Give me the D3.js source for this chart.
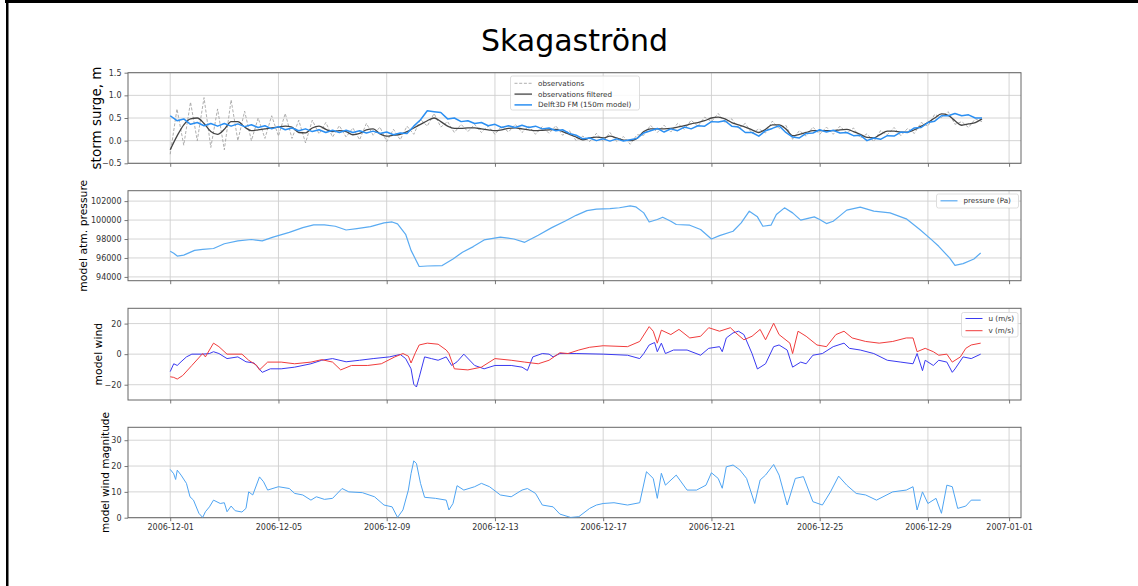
<!DOCTYPE html>
<html>
<head>
<meta charset="utf-8">
<script src="https://cdn.jsdelivr.net/npm/d3@7"></script>
<style>
  html, body { margin: 0; padding: 0; background: #fff; }
  svg { display: block; font-family: "DejaVu Sans", sans-serif; }
</style>
</head>
<body>
<div id="chart"></div>
<script>
// ---- data ----
const titleText = "Skagaströnd";
const startDate = "2006-12-01T00:00:00Z";
const xTickDates = ["2006-12-01", "2006-12-05", "2006-12-09", "2006-12-13", "2006-12-17",
  "2006-12-21", "2006-12-25", "2006-12-29", "2007-01-01"];

// storm surge (m), one value every 6 hours from 2006-12-01 00:00
const surgeStepHours = 6;
const surgeObs = [
  -0.3, 0.7, -0.1, 0.85, 0.0, 0.95, -0.15, 0.7, -0.2, 0.9, 0.0, 0.65,
  0.0, 0.5, 0.05, 0.55, 0.1, 0.6, 0.05, 0.45, -0.05, 0.45, 0.15, 0.4,
  0.08, 0.33, 0.08, 0.28, 0.02, 0.38, 0.12, 0.3, -0.02, 0.25, 0.02, 0.32,
  0.14, 0.47, 0.32, 0.6, 0.3, 0.42, 0.18, 0.36, 0.2, 0.36, 0.18, 0.32,
  0.14, 0.32, 0.19, 0.36, 0.18, 0.32, 0.14, 0.31, 0.16, 0.33, 0.12, 0.22,
  0.0, 0.1, -0.02, 0.16, -0.02, 0.18, -0.02, 0.09, -0.08, 0.13, 0.12, 0.34,
  0.18, 0.34, 0.19, 0.38, 0.25, 0.45, 0.32, 0.52, 0.42, 0.6, 0.4, 0.48,
  0.27, 0.38, 0.16, 0.26, 0.17, 0.43, 0.27, 0.34, 0.03, 0.22, 0.1, 0.3,
  0.14, 0.3, 0.14, 0.32, 0.17, 0.28, 0.06, 0.15, -0.02, 0.22, 0.13, 0.29,
  0.11, 0.27, 0.16, 0.4, 0.32, 0.58, 0.51, 0.64, 0.36, 0.42, 0.29, 0.48,
  0.42
];
const surgeFiltered = [
  -0.2, 0.1, 0.35, 0.48, 0.5, 0.38, 0.2, 0.14, 0.25, 0.42, 0.42, 0.3,
  0.22, 0.24, 0.26, 0.28, 0.3, 0.32, 0.3, 0.18, 0.17, 0.28, 0.32, 0.25,
  0.2, 0.22, 0.2, 0.13, 0.16, 0.24, 0.26, 0.15, 0.1, 0.12, 0.14, 0.2,
  0.28, 0.36, 0.44, 0.5, 0.42, 0.32, 0.27, 0.27, 0.28, 0.28, 0.26, 0.24,
  0.22, 0.24, 0.27, 0.28, 0.26, 0.24, 0.22, 0.23, 0.24, 0.25, 0.2, 0.14,
  0.08, 0.02, 0.06, 0.08, 0.06, 0.1, 0.06, 0.01, 0.0, 0.05, 0.2, 0.26,
  0.26, 0.26, 0.27, 0.3, 0.33, 0.37, 0.4, 0.44, 0.5, 0.52, 0.48, 0.4,
  0.35, 0.3, 0.24, 0.18, 0.25, 0.35, 0.35, 0.26, 0.11, 0.14, 0.18, 0.22,
  0.22, 0.22, 0.22, 0.24, 0.25, 0.2, 0.14, 0.07, 0.06, 0.14, 0.21, 0.21,
  0.19, 0.19, 0.24, 0.32, 0.4, 0.5, 0.59, 0.56, 0.44, 0.34, 0.37, 0.4,
  0.48
];
const surgeModel = [
  0.55, 0.44, 0.48, 0.36, 0.4, 0.33, 0.38, 0.32, 0.38, 0.32, 0.37, 0.31,
  0.35, 0.29, 0.33, 0.26, 0.31, 0.24, 0.28, 0.22, 0.26, 0.2, 0.24, 0.18,
  0.23, 0.18, 0.23, 0.18, 0.22, 0.17, 0.21, 0.16, 0.19, 0.13, 0.17, 0.16,
  0.32, 0.46, 0.66, 0.64, 0.62, 0.48, 0.5, 0.42, 0.44, 0.38, 0.4, 0.33,
  0.36, 0.29, 0.33, 0.29, 0.34, 0.29, 0.32, 0.26, 0.28, 0.22, 0.24, 0.16,
  0.12, 0.04, 0.06, 0.0, 0.04, -0.01, 0.04, -0.01, 0.02, 0.05, 0.17, 0.22,
  0.27, 0.19, 0.26, 0.22, 0.3, 0.26, 0.33, 0.32, 0.42, 0.41, 0.44, 0.32,
  0.3, 0.18, 0.18, 0.1, 0.22, 0.27, 0.33, 0.18, 0.08, 0.06, 0.16, 0.17,
  0.24, 0.19, 0.23, 0.17, 0.18, 0.11, 0.12, 0.0, 0.06, 0.03, 0.11, 0.1,
  0.19, 0.18, 0.28, 0.29, 0.4, 0.43, 0.55, 0.55, 0.6, 0.55, 0.57, 0.5,
  0.5
];

// pressure (Pa), sampled at day offsets from 2006-12-01
const pressureDays = [0, 0.13, 0.26, 0.5, 0.9, 1.2, 1.6, 2.0, 2.5, 3.0, 3.4, 3.8, 4.4, 4.9, 5.3, 5.7,
  6.1, 6.5, 6.9, 7.4, 7.9, 8.2, 8.4, 8.7, 8.9, 9.2, 9.5, 10.05, 10.45, 10.8, 11.2, 11.6, 12.2, 12.7,
  13.1, 13.6, 14.1, 14.6, 15.0, 15.4, 15.75, 16.25, 16.6, 17.0, 17.2, 17.5, 17.7, 18.0, 18.2, 18.5,
  18.7, 19.2, 19.6, 20.0, 20.3, 20.8, 21.1, 21.4, 21.7, 21.9, 22.2, 22.4, 22.7, 23.0, 23.3, 23.8,
  24.0, 24.25, 24.5, 24.7, 25.0, 25.5, 26.0, 26.6, 27.2, 27.7, 28.1, 28.4, 28.8, 29.0, 29.3, 29.7, 29.95];
const pressurePa = [96700, 96500, 96200, 96300, 96800, 96900, 97000, 97500, 97800, 97950, 97800, 98200,
  98700, 99200, 99500, 99500, 99350, 98950, 99100, 99300, 99700, 99800, 99600, 98500, 96800, 95100,
  95150, 95200, 95900, 96600, 97200, 97900, 98200, 98000, 97650, 98400, 99200, 99900, 100500, 101000,
  101150, 101200, 101300, 101500, 101400, 100760, 99800, 100060, 100300, 99880, 99530, 99460, 99000,
  98000, 98360, 98820, 99700, 100940, 100340, 99350, 99460, 100590, 101290, 100760, 99990, 100340,
  100060, 99630, 99880, 100340, 101050, 101360, 100940, 100760, 100130, 99000, 98010, 97230, 96000,
  95220, 95400, 95890, 96530];

// wind components (m/s)
const windUDays = [0, 0.13, 0.26, 0.4, 0.6, 0.8, 1.2, 1.45, 1.6, 1.8, 2.1, 2.5, 2.8, 3.1, 3.4, 3.7,
  4.1, 4.6, 5.2, 5.6, 6.0, 6.5, 7.0, 7.5, 8.1, 8.5, 8.7, 8.9, 9.0, 9.1, 9.2, 9.4, 9.65, 9.9, 10.2,
  10.4, 10.6, 10.85, 11.25, 11.6, 12.0, 12.6, 13.0, 13.2, 13.4, 13.75, 14.0, 14.15, 14.4, 15.0, 16.0,
  16.9, 17.35, 17.5, 17.7, 17.9, 18.0, 18.15, 18.3, 18.6, 19.1, 19.6, 19.9, 20.3, 20.4, 20.55, 20.8,
  21.0, 21.2, 21.5, 21.7, 22.0, 22.3, 22.5, 22.8, 23.0, 23.3, 23.5, 23.75, 24.1, 24.5, 24.9, 25.1,
  25.5, 26.0, 26.5, 27.0, 27.45, 27.6, 27.8, 27.9, 28.2, 28.4, 28.7, 28.9, 29.0, 29.3, 29.6, 29.95];
const windU = [-11.4, -6.3, -7.4, -5, -1.8, 0, 0, 0.4, 1.6, 0.4, -2.9, -1.8, -5, -5.8, -11.9, -9.6,
  -9.6, -8.5, -6.3, -4, -2.9, -5, -4, -2.9, -1.8, -0.2, -2.9, -9.6, -19.7, -21.5, -15.2, -1.8, -2.9,
  -4, -1.8, -7.4, -5, 0, -7.4, -9.6, -7.4, -7.4, -8.5, -10.7, -1.8, 0.4, 0, -1.8, 0.4, 0.4, 0,
  -0.7, -2.9, 0.4, 6, 7.6, 1.6, 7.2, 0.4, 2.7, 2.7, -0.7, 3.8, 4.9, 1.6, 10.6, 13.9,
  15, 12.8, 0.4, -9.7, -6.3, 4.9, 6, 2.7, -8.5, -5.2, -6.3, -0.7, 0.4, 4.9, 7.2, 3.8,
  2.7, 0.4, -4, -5.2, -6.3, 0.4, -10.8, -4, -7.4, -4, -5.2, -11.9, -9.7, -1.8, -2.9, 0];
const windVDays = [0, 0.13, 0.26, 0.46, 0.8, 1.2, 1.3, 1.6, 1.8, 2.1, 2.65, 2.9, 3.2, 3.3, 3.6, 4.1,
  4.6, 5.2, 5.6, 6.0, 6.3, 6.7, 7.3, 7.8, 8.3, 8.6, 8.8, 8.9, 9.06, 9.2, 9.5, 9.9, 10.2, 10.3, 10.5,
  11.0, 11.5, 12.0, 12.6, 13.1, 13.6, 14.0, 14.4, 14.7, 15.1, 15.5, 16.0, 16.9, 17.35, 17.7, 17.85,
  18.0, 18.15, 18.5, 18.8, 19.2, 19.6, 19.9, 20.3, 20.7, 20.9, 21.2, 21.5, 21.8, 22.0, 22.3, 22.5,
  22.9, 23.0, 23.2, 23.5, 23.9, 24.25, 24.6, 24.9, 25.2, 25.7, 26.2, 26.7, 27.2, 27.45, 27.6, 27.9,
  28.2, 28.4, 28.7, 28.9, 29.2, 29.4, 29.6, 29.95];
const windV = [-14.8, -15.2, -16.3, -14, -7.4, 0.4, -1.8, 7.2, 4.9, 0, 0, -4, -7.4, -10.3, -5.2, -5.2,
  -6.3, -5.2, -3.6, -5.2, -10.3, -7.4, -7.4, -6.3, -1.8, 0.4, -1.3, -5.8, 0.9, 6, 7.2, 6.5, 2.7, 0.4,
  -9.6, -10.3, -8.5, -2.9, -4, -5.2, -6.3, -4, 0.9, 0.4, 2.7, 4.5, 5.5, 4.9, 8.3, 18, 15,
  7.2, 15.7, 12.8, 16.2, 10.6, 11.7, 17.3, 15, 17.3, 13.9, 9.4, 11.7, 16.2, 9.4, 20.2, 12.8,
  7.2, 0.4, 15, 11.7, 6, 4.9, 12.8, 15, 10.6, 8.3, 7.2, 8.3, 10.6, 10.6, 1.6, 3.8,
  1.6, -0.7, 0, -5.2, -1.8, 3.8, 6, 7.2];

// wind magnitude (m/s)
const windMagDays = [0, 0.13, 0.2, 0.26, 0.4, 0.6, 0.73, 0.86, 1.06, 1.2, 1.3, 1.45, 1.6, 1.85, 2.0,
  2.1, 2.25, 2.4, 2.65, 2.8, 2.9, 3.05, 3.3, 3.45, 3.6, 4.0, 4.4, 4.6, 4.9, 5.2, 5.4, 5.7, 6.0, 6.35,
  6.6, 7.1, 7.55, 7.9, 8.2, 8.4, 8.6, 8.8, 8.9, 9.0, 9.1, 9.25, 9.4, 9.8, 10.2, 10.3, 10.45, 10.6,
  10.85, 11.25, 11.5, 11.8, 12.2, 12.6, 13.0, 13.2, 13.5, 13.75, 14.15, 14.4, 14.8, 15.1, 15.5, 15.75,
  16.0, 16.4, 16.9, 17.35, 17.6, 17.85, 18.0, 18.15, 18.3, 18.7, 19.1, 19.45, 19.8, 20.0, 20.25, 20.4,
  20.55, 20.8, 21.05, 21.3, 21.6, 21.8, 22.0, 22.3, 22.5, 22.8, 23.1, 23.4, 23.75, 24.1, 24.4, 24.7,
  25.0, 25.35, 25.7, 26.1, 26.7, 27.2, 27.45, 27.6, 27.8, 28.0, 28.3, 28.5, 28.7, 28.9, 29.1, 29.4,
  29.6, 29.95];
const windMag = [18.7, 17, 14.8, 18.4, 16.5, 13.3, 8.1, 6.8, 1.7, 0.1, 2.3, 4.2, 6.8, 5.5, 5.8,
  2.3, 4.5, 2.7, 2.2, 3.6, 10, 8.8, 15.8, 13.9, 10.7, 12, 11.3, 9.4, 8.8, 6.8, 8.1, 7.1, 7.5, 11.3,
  10, 9.7, 8.1, 4.9, 4.2, 0.1, 3, 10.7, 17.1, 22, 21, 13.3, 7.9, 7.5, 6.8, 3, 5.5, 12.4,
  10.7, 12, 13.3, 12, 8.8, 8.1, 10.7, 11.3, 9.4, 4.9, 4.2, 1.4, 0.1, 0.4, 3.6, 4.9,
  5.5, 5.8, 4.9, 5.8, 17.8, 15.2, 7.5, 17.2, 12.6, 16.5, 10.7, 10.7, 12.6, 17.4, 15.2, 11.4,
  19.7, 20.4, 18.5, 15.2, 5.5, 14.6, 16.5, 20.6, 16.5, 4.9, 15.2, 15.9, 6.2, 4.9, 10, 16.1,
  12.6, 9.4, 8.8, 6.8, 10, 10.7, 12, 3, 10, 5.5, 7.5, 1.7, 12.6, 12, 3.6, 4.5,
  6.8, 6.8];

const surgeTicks = [-0.5, 0.0, 0.5, 1.0, 1.5];
const pressureTicks = [94000, 96000, 98000, 100000, 102000];
const windTicks = [-20, 0, 20];
const magTicks = [0, 10, 20, 30];

// ---- layout ----
const W = 1138, H = 586;
const plotLeft = 128, plotRight = 1021;

const svg = d3.select("#chart").append("svg")
  .attr("width", W)
  .attr("height", H);

svg.append("rect").attr("width", W).attr("height", H).attr("fill", "#fff");

// dark frame on top and left edge
svg.append("rect").attr("x", 5).attr("y", 0).attr("width", W - 5).attr("height", 3).attr("fill", "#000");
svg.append("rect").attr("x", 6).attr("y", 0).attr("width", 2.5).attr("height", H).attr("fill", "#000");

const t0 = new Date(startDate).getTime();
const dayToDate = (d) => new Date(t0 + d * 864e5);
const tickDates = xTickDates.map((s) => new Date(s + "T00:00:00Z"));

// x limits: about 1.56 days before the first record to 0.44 days past 2007-01-01
const x = d3.scaleUtc()
  .domain([dayToDate(-1.56), dayToDate(31.44)])
  .range([plotLeft, plotRight]);

const surgeDates = surgeObs.map((_, i) => new Date(t0 + i * surgeStepHours * 36e5));

svg.append("text")
  .attr("x", (plotLeft + plotRight) / 2)
  .attr("y", 50.5)
  .attr("text-anchor", "middle")
  .attr("font-size", 30)
  .attr("fill", "#000")
  .text(titleText);

const panels = [
  { top: 72.7, bottom: 163.3, domain: [-0.5, 1.5], ticks: surgeTicks, fmt: d3.format(".1f"),
    label: "storm surge, m", labelSize: 13.5, labelX: 96.5 },
  { top: 190.7, bottom: 280.7, domain: [93600, 103100], ticks: pressureTicks, fmt: d3.format("d"),
    label: "model atm. pressure", labelSize: 10.8, labelX: 83.5 },
  { top: 308.3, bottom: 400, domain: [-30, 30], ticks: windTicks, fmt: d3.format("d"),
    label: "model wind", labelSize: 10.8, labelX: 98 },
  { top: 427.3, bottom: 517.7, domain: [0, 35], ticks: magTicks, fmt: d3.format("d"),
    label: "model wind magnitude", labelSize: 10.5, labelX: 105.5 }
];

panels.forEach((p, k) => {
  p.y = d3.scaleLinear().domain(p.domain).range([p.bottom, p.top]);
  const g = svg.append("g");

  // grid
  g.selectAll(".vgrid").data(tickDates).enter().append("line")
    .attr("x1", (d) => x(d)).attr("x2", (d) => x(d))
    .attr("y1", p.top).attr("y2", p.bottom)
    .attr("stroke", "#cfcfcf").attr("stroke-width", 0.9);
  g.selectAll(".hgrid").data(p.ticks).enter().append("line")
    .attr("x1", plotLeft).attr("x2", plotRight)
    .attr("y1", (d) => p.y(d)).attr("y2", (d) => p.y(d))
    .attr("stroke", "#cfcfcf").attr("stroke-width", 0.9);

  // axes
  const yAxis = g.append("g")
    .attr("transform", `translate(${plotLeft},0)`)
    .call(d3.axisLeft(p.y).tickValues(p.ticks).tickFormat(p.fmt).tickSize(3.5).tickPadding(3));
  const xAxis = g.append("g")
    .attr("transform", `translate(0,${p.bottom})`)
    .call(d3.axisBottom(x).tickValues(tickDates)
      .tickFormat(k === 3 ? d3.utcFormat("%Y-%m-%d") : () => "")
      .tickSize(3.5).tickPadding(3.5));
  [yAxis, xAxis].forEach((a) => {
    a.select(".domain").remove();
    a.selectAll(".tick line").attr("stroke", "#555").attr("stroke-width", 0.8);
    a.selectAll(".tick text").attr("fill", "#333").attr("font-size", 8)
      .attr("font-family", "DejaVu Sans, sans-serif");
  });

  // frame
  g.append("rect")
    .attr("x", plotLeft).attr("y", p.top)
    .attr("width", plotRight - plotLeft).attr("height", p.bottom - p.top)
    .attr("fill", "none").attr("stroke", "#666").attr("stroke-width", 1);

  // y label
  g.append("text")
    .attr("transform", `translate(${p.labelX},${(p.top + p.bottom) / 2}) rotate(-90)`)
    .attr("text-anchor", "middle")
    .attr("dy", "0.35em")
    .attr("font-size", p.labelSize)
    .attr("fill", "#000")
    .text(p.label);

  svg.append("clipPath").attr("id", "clip" + k)
    .append("rect")
    .attr("x", plotLeft).attr("y", p.top)
    .attr("width", plotRight - plotLeft).attr("height", p.bottom - p.top);
  p.plot = svg.append("g").attr("clip-path", `url(#clip${k})`);
});

function drawLine(p, dates, values, color, width, dash, curve) {
  const line = d3.line()
    .x((d, i) => x(dates[i]))
    .y((d) => p.y(d))
    .curve(curve || d3.curveLinear);
  p.plot.append("path")
    .datum(values)
    .attr("d", line)
    .attr("fill", "none")
    .attr("stroke", color)
    .attr("stroke-width", width)
    .attr("stroke-dasharray", dash || null)
    .attr("stroke-linejoin", "round");
}

const blueModel = "#2b8ff2";
const bluePressure = "#5aabf2";
const blueU = "#3a3af0";
const redV = "#f03c3c";

// panel 1: storm surge
drawLine(panels[0], surgeDates, surgeObs, "#9a9a9a", 0.8, "3,1.7");
drawLine(panels[0], surgeDates, surgeFiltered, "#444", 1.3, null, d3.curveMonotoneX);
drawLine(panels[0], surgeDates, surgeModel, blueModel, 1.5);

// panel 2: pressure
drawLine(panels[1], pressureDays.map(dayToDate), pressurePa, bluePressure, 1.2);

// panel 3: wind components
drawLine(panels[2], windUDays.map(dayToDate), windU, blueU, 1);
drawLine(panels[2], windVDays.map(dayToDate), windV, redV, 1);

// panel 4: wind magnitude
drawLine(panels[3], windMagDays.map(dayToDate), windMag, "#4ea4f2", 1);

// legends
function legend(box, items) {
  const g = svg.append("g");
  g.append("rect")
    .attr("x", box.x).attr("y", box.y).attr("width", box.w).attr("height", box.h)
    .attr("rx", 2)
    .attr("fill", "#fff").attr("fill-opacity", 0.85)
    .attr("stroke", "#d5d5d5").attr("stroke-width", 0.8);
  items.forEach((it, i) => {
    const cy = box.y + box.pad + i * box.step;
    g.append("line")
      .attr("x1", box.x + 4).attr("x2", box.x + 4 + box.len)
      .attr("y1", cy).attr("y2", cy)
      .attr("stroke", it.color).attr("stroke-width", it.width)
      .attr("stroke-dasharray", it.dash || null);
    g.append("text")
      .attr("x", box.x + box.len + 10).attr("y", cy)
      .attr("dy", "0.35em")
      .attr("font-size", 7.2)
      .attr("fill", "#333")
      .text(it.label);
  });
}

legend({ x: 510.5, y: 76, w: 129, h: 34, pad: 7.3, step: 10.8, len: 17.5 }, [
  { label: "observations", color: "#9a9a9a", width: 0.8, dash: "3,1.7" },
  { label: "observations filtered", color: "#444", width: 1.3 },
  { label: "Delft3D FM (150m model)", color: blueModel, width: 1.5 }
]);
legend({ x: 936.5, y: 194, w: 82, h: 14, pad: 6.8, step: 10, len: 17 }, [
  { label: "pressure (Pa)", color: bluePressure, width: 1.2 }
]);
legend({ x: 961.5, y: 312.5, w: 56.5, h: 24.5, pad: 6, step: 12.2, len: 17 }, [
  { label: "u (m/s)", color: blueU, width: 1 },
  { label: "v (m/s)", color: redV, width: 1 }
]);
</script>
</body>
</html>
